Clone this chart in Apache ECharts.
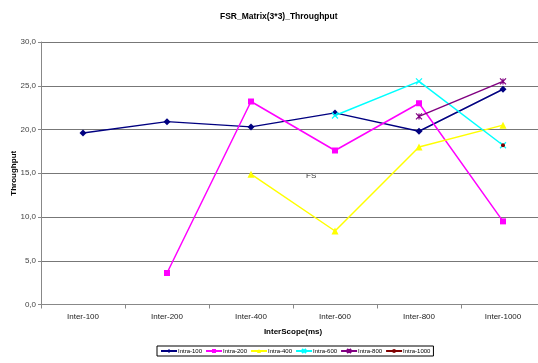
<!DOCTYPE html>
<html>
<head>
<meta charset="utf-8">
<script src="https://cdn.jsdelivr.net/npm/echarts@6/dist/echarts.min.js"></script>
<style>
  html, body { margin: 0; padding: 0; background: #fff; }
  #chart { width: 538px; height: 363px; }
</style>
</head>
<body>
<div id="chart"></div>
<script>
// Categories on the x axis
const categories = ['Inter-100', 'Inter-200', 'Inter-400', 'Inter-600', 'Inter-800', 'Inter-1000'];

// Throughput per intra scope (null = no measurement)
const intra100  = [19.6, 20.9, 20.3, 21.9, 19.8, 24.6];
const intra200  = [null, 3.6, 23.2, 17.6, 23.0, 9.5];
const intra400  = [null, null, 14.9, 8.4, 18.0, 20.5];
const intra600  = [null, null, null, 21.6, 25.5, 18.2];
const intra800  = [null, null, null, null, 21.5, 25.5];
const intra1000 = [null, null, null, null, null, 18.2];

const seriesNames = ['Intra-100', 'Intra-200', 'Intra-400', 'Intra-600', 'Intra-800', 'Intra-1000'];

const FONT = 'Liberation Sans';
const crossPath = 'path://M0,0L10,10M10,0L0,10';
const starPath = 'path://M0,0L10,10M10,0L0,10M5,0L5,10';

function lineSeries(name, data, color, symbol, size, stroke) {
  return {
    name: name,
    type: 'line',
    data: data,
    connectNulls: false,
    symbol: symbol,
    symbolSize: size,
    showSymbol: true,
    lineStyle: { color: color, width: 1.5 },
    itemStyle: stroke
      ? { color: color, borderColor: color, borderWidth: 1.2 }
      : { color: color },
    emphasis: { disabled: true },
    animation: false
  };
}

const chart = echarts.init(document.getElementById('chart'), null, { renderer: 'canvas' });

chart.setOption({
  backgroundColor: '#ffffff',
  animation: false,
  title: {
    text: 'FSR_Matrix(3*3)_Throughput',
    left: 215,
    top: 7,
    textStyle: { fontFamily: FONT, fontSize: 8.5, fontWeight: 'bold', color: '#000' }
  },
  grid: { left: 41, right: -7, top: 42, bottom: 58.5, outerBoundsMode: 'none', containLabel: false },
  legend: {
    top: 346,
    left: 157,
    itemWidth: 16,
    itemHeight: 5,
    itemGap: 3,
    padding: [2, 3, 2, 3],
    borderColor: '#000',
    borderWidth: 1,
    data: seriesNames,
    textStyle: { fontFamily: FONT, fontSize: 6, color: '#000', padding: [0, 0, 0, -4] }
  },
  xAxis: {
    type: 'category',
    data: categories,
    boundaryGap: true,
    name: 'InterScope(ms)',
    nameLocation: 'middle',
    nameGap: 23,
    nameMoveOverlap: false,
    nameTextStyle: { fontFamily: FONT, fontSize: 8, fontWeight: 'bold', color: '#000' },
    axisLine: { show: true, lineStyle: { color: '#888', width: 1 } },
    axisTick: { show: true, length: 4, lineStyle: { color: '#888' } },
    axisLabel: { fontFamily: FONT, fontSize: 8, color: '#222', margin: 8 },
    splitLine: { show: false }
  },
  yAxis: {
    type: 'value',
    min: 0,
    max: 30,
    interval: 5,
    name: 'Throughput',
    nameLocation: 'middle',
    nameGap: 23,
    nameMoveOverlap: false,
    nameRotate: 90,
    nameTextStyle: { fontFamily: FONT, fontSize: 8, fontWeight: 'bold', color: '#000' },
    axisLine: { show: true, lineStyle: { color: '#888', width: 1 } },
    axisTick: { show: true, length: 3, lineStyle: { color: '#888' } },
    axisLabel: {
      fontFamily: FONT, fontSize: 8, color: '#444', margin: 5,
      formatter: v => v.toFixed(1).replace('.', ',')
    },
    splitLine: { show: true, lineStyle: { color: '#777', width: 1 } }
  },
  graphic: [{
    type: 'text',
    left: 306,
    top: 172,
    style: { text: 'FS', fontFamily: FONT, fontSize: 8, fill: '#333' }
  }],
  series: [
    lineSeries('Intra-100', intra100, '#000080', 'diamond', 7, false),
    lineSeries('Intra-200', intra200, '#FF00FF', 'rect', 6, false),
    lineSeries('Intra-400', intra400, '#FFFF00', 'triangle', 7, false),
    lineSeries('Intra-600', intra600, '#00FFFF', crossPath, 6, true),
    lineSeries('Intra-800', intra800, '#800080', starPath, 6, true),
    lineSeries('Intra-1000', intra1000, '#800000', 'circle', 4, false)
  ]
});
</script>
</body>
</html>
